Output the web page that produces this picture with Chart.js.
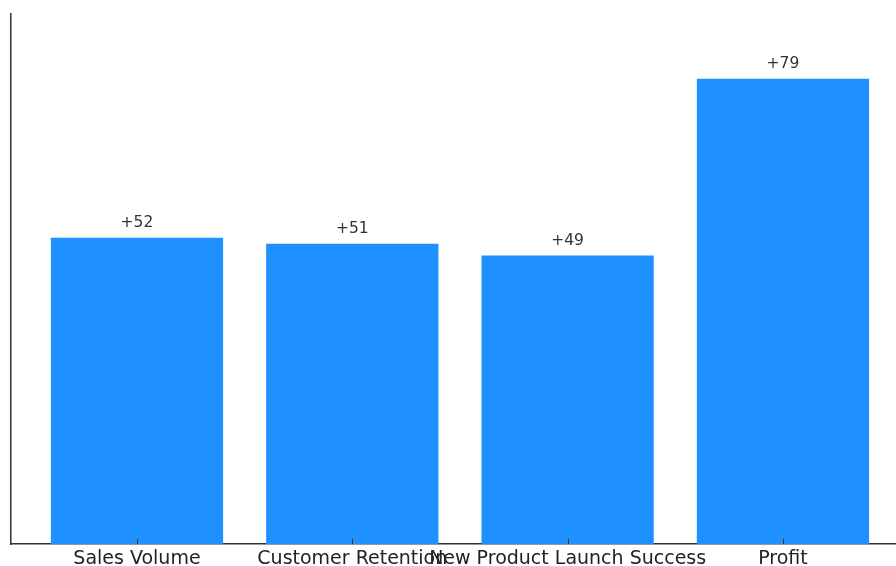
<!DOCTYPE html>
<html>
<head>
<meta charset="utf-8">
<script src="https://cdn.jsdelivr.net/npm/chart.js@4/dist/chart.umd.min.js"></script>
<style>
html,body{margin:0;padding:0;background:#fff;overflow:hidden;}
#wrap{width:896px;height:566px;position:relative;overflow:hidden;}
</style>
</head>
<body>
<div id="wrap"><canvas id="c" width="896" height="569"></canvas></div>
<script>
const categories = ["Sales Volume", "Customer Retention", "New Product Launch Success", "Profit"];
const values = [52, 51, 49, 79];
const valueLabels = ["+52", "+51", "+49", "+79"];

const points = values.map((v, i) => ({x: i, y: v}));

const inwardTicks = {
  id: 'inwardTicks',
  afterDatasetsDraw(chart) {
    const ctx = chart.ctx, xs = chart.scales.x, ys = chart.scales.y;
    ctx.save();
    ctx.strokeStyle = '#333';
    ctx.lineWidth = 1;
    categories.forEach((c, i) => {
      const px = Math.round(xs.getPixelForValue(i)) + 0.5;
      ctx.beginPath();
      ctx.moveTo(px, ys.bottom);
      ctx.lineTo(px, ys.bottom - 5);
      ctx.stroke();
    });
    ctx.fillStyle = '#333';
    ctx.font = '15.5px "DejaVu Sans"';
    ctx.textAlign = 'center';
    ctx.textBaseline = 'alphabetic';
    values.forEach((v, i) => {
      ctx.fillText(valueLabels[i], xs.getPixelForValue(i), ys.getPixelForValue(v) - 10.5);
    });
    ctx.restore();
  }
};

new Chart(document.getElementById('c'), {
  type: 'bar',
  data: {
    datasets: [{
      data: points,
      backgroundColor: '#1E90FF',
      borderWidth: 0,
      barPercentage: 0.8,
      categoryPercentage: 1.0
    }]
  },
  options: {
    responsive: false,
    animation: false,
    layout: {padding: {left: 11, top: 14, right: 0, bottom: -6}},
    plugins: {legend: {display: false}, tooltip: {enabled: false}},
    scales: {
      x: {
        type: 'linear',
        offset: false,
        min: -0.585,
        max: 3.525,
        grid: {display: false, drawTicks: false, offset: false},
        border: {display: true, color: '#333', width: 1.5},
        ticks: {
          stepSize: 1,
          includeBounds: false,
          autoSkip: false,
          maxRotation: 0,
          minRotation: 0,
          padding: 6,
          color: '#222',
          font: {family: 'DejaVu Sans', size: 19, lineHeight: 1},
          callback: (v) => Number.isInteger(v) && categories[v] !== undefined ? categories[v] : ''
        }
      },
      y: {
        min: 0,
        max: 90,
        grid: {display: false, drawTicks: false},
        border: {display: true, color: '#333', width: 1.5},
        ticks: {display: false}
      }
    }
  },
  plugins: [inwardTicks]
});
</script>
</body>
</html>
